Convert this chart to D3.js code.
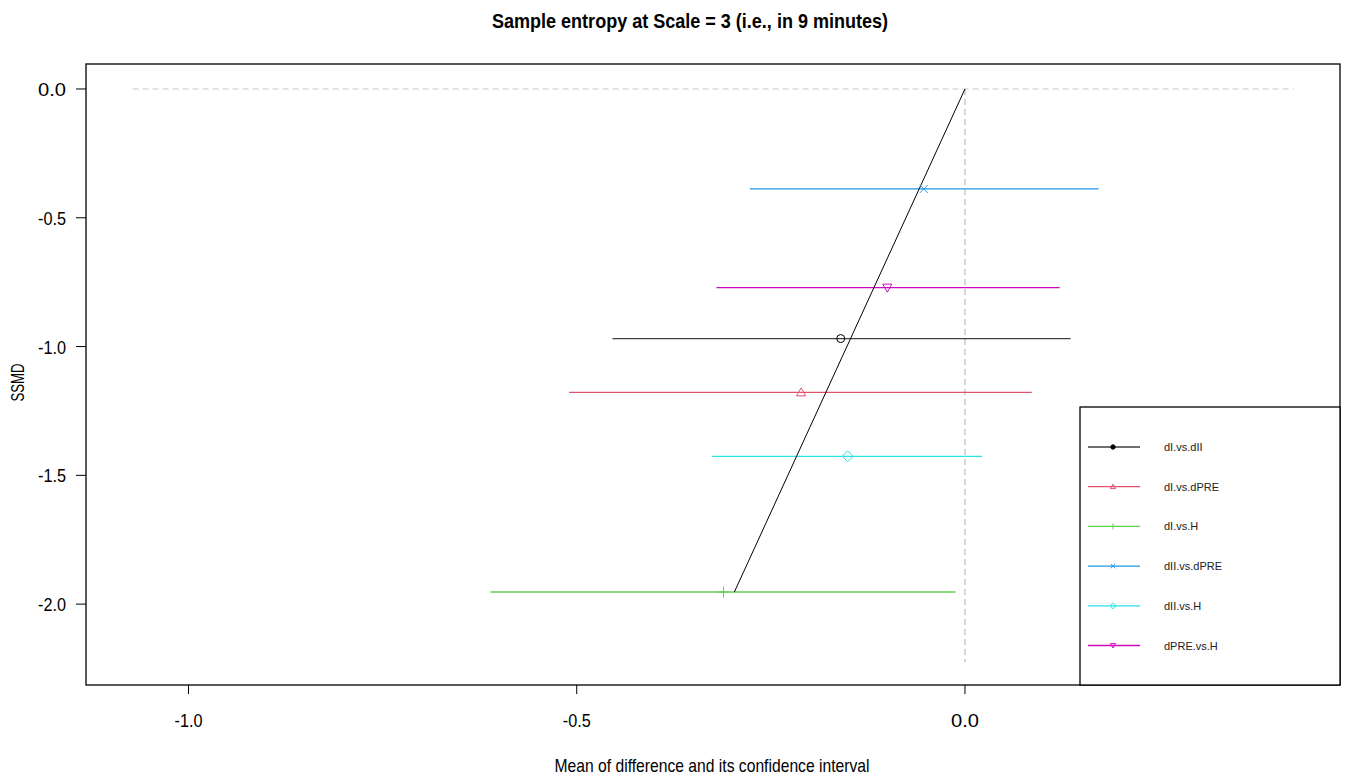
<!DOCTYPE html>
<html>
<head>
<meta charset="utf-8">
<script src="https://cdn.jsdelivr.net/npm/d3@7"></script>
<style>
  body { margin: 0; background: #fff; }
  text { font-family: "Liberation Sans", Arial, sans-serif; }
</style>
</head>
<body>
<script>
// comparisons, in legend order
var comparisons = ["dI.vs.dII", "dI.vs.dPRE", "dI.vs.H", "dII.vs.dPRE", "dII.vs.H", "dPRE.vs.H"];
var meanDiff = [-0.160, -0.211, -0.311, -0.053, -0.151, -0.100];
var ciLower = [-0.454, -0.510, -0.611, -0.277, -0.326, -0.320];
var ciUpper = [0.136, 0.086, -0.012, 0.172, 0.022, 0.122];
var ssmd = [-0.969, -1.178, -1.953, -0.388, -1.426, -0.771];
var colors = ["#000000", "#DF536B", "#61D04F", "#2297E6", "#28E2E5", "#CD0BBC"];
var shapes = ["circle", "triUp", "plus", "cross", "diamond", "triDown"];

// reference line and dashed guides
var refLineX = [0, -0.297];
var refLineY = [0, -1.953];
var guideX = [-1.072, 0.423];
var guideY = [0, -2.225];

var xTicks = [-1.0, -0.5, 0.0];
var yTicks = [0.0, -0.5, -1.0, -1.5, -2.0];

var width = 1348, height = 778;
var plotLeft = 86, plotRight = 1340, plotTop = 64, plotBottom = 685;

var svg = d3.select("body").append("svg")
    .attr("width", width)
    .attr("height", height);

var x = d3.scaleLinear().domain([-1.132, 0.483]).range([plotLeft, plotRight]);
var y = d3.scaleLinear().domain([0.097, -2.314]).range([plotTop, plotBottom]);

/** marker path, centred at 0,0 **/
function markerPath(shape, s) {
    var p = d3.path();
    if (shape === "circle") {
        p.moveTo(s, 0);
        p.arc(0, 0, s, 0, 2 * Math.PI);
    } else if (shape === "triUp") {
        var h = s * 1.15;
        p.moveTo(0, -h); p.lineTo(h, h * 0.75); p.lineTo(-h, h * 0.75); p.closePath();
    } else if (shape === "triDown") {
        var h2 = s * 1.15;
        p.moveTo(0, h2); p.lineTo(h2, -h2 * 0.75); p.lineTo(-h2, -h2 * 0.75); p.closePath();
    } else if (shape === "plus") {
        var q = s * 1.4;
        p.moveTo(-q, 0); p.lineTo(q, 0); p.moveTo(0, -q); p.lineTo(0, q);
    } else if (shape === "cross") {
        p.moveTo(-s, -s); p.lineTo(s, s); p.moveTo(-s, s); p.lineTo(s, -s);
    } else if (shape === "diamond") {
        var d = s * 1.35;
        p.moveTo(0, -d); p.lineTo(d, 0); p.lineTo(0, d); p.lineTo(-d, 0); p.closePath();
    }
    return p.toString();
}

// dashed guides
svg.append("line")
    .attr("x1", x(guideX[0])).attr("x2", x(guideX[1]))
    .attr("y1", y(0)).attr("y2", y(0))
    .attr("stroke", "#c8c8c8").attr("stroke-dasharray", "6,4");
svg.append("line")
    .attr("x1", x(0)).attr("x2", x(0))
    .attr("y1", y(guideY[0])).attr("y2", y(guideY[1]))
    .attr("stroke", "#c8c8c8").attr("stroke-dasharray", "6,4").attr("stroke-width", 1.5);

// confidence intervals
comparisons.forEach(function (c, i) {
    svg.append("line")
        .attr("x1", x(ciLower[i])).attr("x2", x(ciUpper[i]))
        .attr("y1", y(ssmd[i])).attr("y2", y(ssmd[i]))
        .attr("stroke", colors[i]).attr("stroke-width", 1.3)
        .attr("stroke-opacity", i === 0 ? 0.75 : 1);
});

// reference line
svg.append("line")
    .attr("x1", x(refLineX[0])).attr("y1", y(refLineY[0]))
    .attr("x2", x(refLineX[1])).attr("y2", y(refLineY[1]))
    .attr("stroke", "#000").attr("stroke-width", 1);

// means
comparisons.forEach(function (c, i) {
    svg.append("path")
        .attr("d", markerPath(shapes[i], 4))
        .attr("transform", "translate(" + x(meanDiff[i]) + "," + y(ssmd[i]) + ")")
        .attr("fill", "none")
        .attr("stroke", colors[i])
        .attr("stroke-width", 1);
});

// plot box
svg.append("rect")
    .attr("x", plotLeft).attr("y", plotTop)
    .attr("width", plotRight - plotLeft).attr("height", plotBottom - plotTop)
    .attr("fill", "none").attr("stroke", "#000").attr("stroke-width", 1.3);

// x axis
var gx = svg.append("g");
xTicks.forEach(function (t) {
    gx.append("line")
        .attr("x1", x(t)).attr("x2", x(t))
        .attr("y1", plotBottom).attr("y2", plotBottom + 9)
        .attr("stroke", "#000");
    gx.append("text")
        .attr("x", x(t)).attr("y", 727)
        .attr("text-anchor", "middle")
        .attr("font-size", 19)
        .attr("textLength", 28).attr("lengthAdjust", "spacingAndGlyphs")
        .text(t.toFixed(1));
});

// y axis
var gy = svg.append("g");
yTicks.forEach(function (t) {
    gy.append("line")
        .attr("x1", plotLeft - 10).attr("x2", plotLeft)
        .attr("y1", y(t)).attr("y2", y(t))
        .attr("stroke", "#000");
    gy.append("text")
        .attr("x", 66).attr("y", y(t) + 7)
        .attr("text-anchor", "end")
        .attr("font-size", 19)
        .attr("textLength", 28)
        .attr("lengthAdjust", "spacingAndGlyphs")
        .text(t.toFixed(1));
});

// titles
svg.append("text")
    .attr("x", 690).attr("y", 28)
    .attr("text-anchor", "middle")
    .attr("font-size", 21).attr("font-weight", "bold")
    .attr("textLength", 396).attr("lengthAdjust", "spacingAndGlyphs")
    .text("Sample entropy at Scale = 3 (i.e., in 9 minutes)");

svg.append("text")
    .attr("x", 712).attr("y", 772)
    .attr("text-anchor", "middle")
    .attr("font-size", 19)
    .attr("textLength", 315).attr("lengthAdjust", "spacingAndGlyphs")
    .text("Mean of difference and its confidence interval");

svg.append("text")
    .attr("transform", "translate(24," + ((plotTop + plotBottom) / 2 + 8) + ") rotate(-90)")
    .attr("text-anchor", "middle")
    .attr("font-size", 19)
    .attr("textLength", 38).attr("lengthAdjust", "spacingAndGlyphs")
    .text("SSMD");

// legend
var lg = svg.append("g");
lg.append("rect")
    .attr("x", 1080).attr("y", 407)
    .attr("width", plotRight - 1080).attr("height", plotBottom - 407)
    .attr("fill", "#fff").attr("stroke", "#000").attr("stroke-width", 1.3);

comparisons.forEach(function (c, i) {
    var ly = 447 + i * 39.7;
    lg.append("line")
        .attr("x1", 1088).attr("x2", 1140)
        .attr("y1", ly).attr("y2", ly)
        .attr("stroke", colors[i]).attr("stroke-width", 1.3)
        .attr("stroke-opacity", i === 0 ? 0.75 : 1);
    lg.append("path")
        .attr("d", markerPath(shapes[i], 2.2))
        .attr("transform", "translate(1113," + ly + ")")
        .attr("fill", i === 0 ? "#000" : "none")
        .attr("stroke", colors[i]);
    lg.append("text")
        .attr("x", 1164).attr("y", ly + 4)
        .attr("font-size", 11)
        .attr("fill", "#222")
        .text(c);
});
</script>
</body>
</html>
